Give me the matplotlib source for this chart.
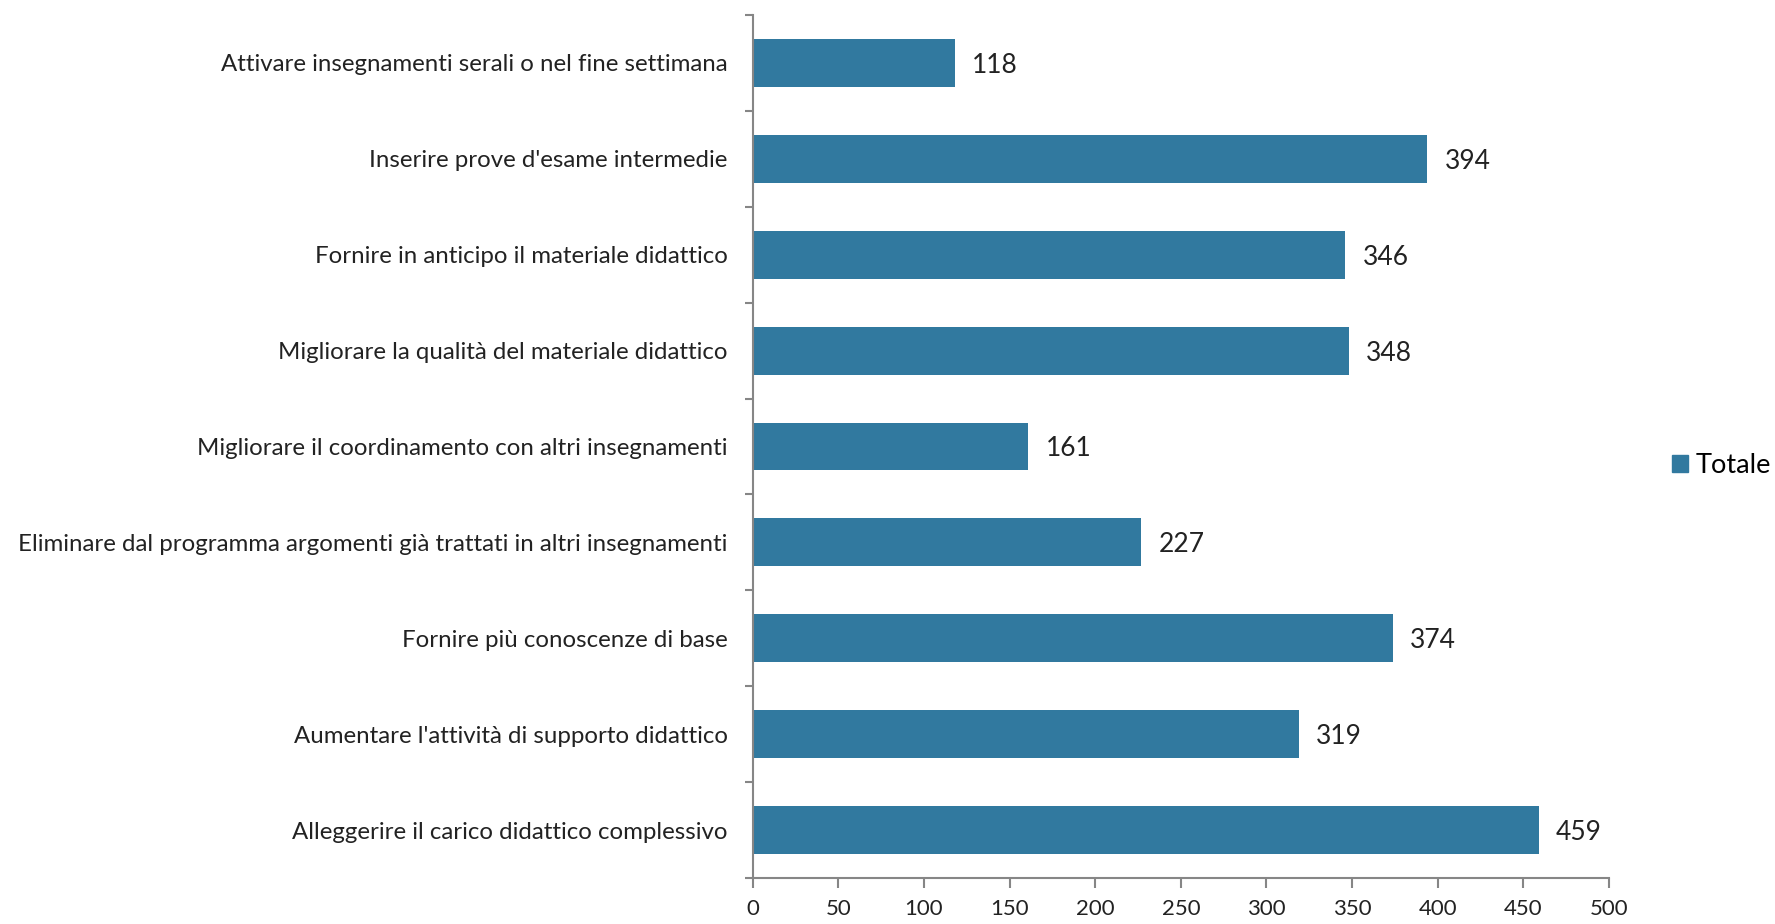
import matplotlib.pyplot as plt
import matplotlib.patches as mpatches

# categories listed bottom to top (barh order)
categories = [
    'Alleggerire il carico didattico complessivo',
    "Aumentare l'attività di supporto didattico",
    'Fornire più conoscenze di base',
    'Eliminare dal programma argomenti già trattati in altri insegnamenti',
    'Migliorare il coordinamento con altri insegnamenti',
    'Migliorare la qualità del materiale didattico',
    'Fornire in anticipo il materiale didattico',
    "Inserire prove d'esame intermedie",
    'Attivare insegnamenti serali o nel fine settimana',
]
totale = [459, 319, 374, 227, 161, 348, 346, 394, 118]
xticks = [0, 50, 100, 150, 200, 250, 300, 350, 400, 450, 500]

BAR_COLOR = '#31799F'
AXIS_COLOR = '#868686'

plt.rcParams['font.family'] = ['Lato', 'DejaVu Sans']

fig = plt.figure(figsize=(17.75, 9.24), dpi=100)
ax = fig.add_axes([0.424, 0.0498, 0.4825, 0.934])

pos = list(range(len(categories)))
ax.barh(pos, totale, height=0.5, color=BAR_COLOR)
for p, v in zip(pos, totale):
  ax.text(v + 10, p, str(v), va='center_baseline', ha='left', fontsize=19,
          color='#222222')

ax.set_xlim(0, 500)
ax.set_ylim(-0.5, len(categories) - 0.5)
ax.set_xticks(xticks)
ax.set_xticklabels([str(t) for t in xticks], fontsize=16, color='#222222')
ax.set_yticks(pos)
ax.set_yticklabels(categories, fontsize=17.3, color='#222222')
ax.tick_params(axis='y', length=0, pad=18)
ax.tick_params(axis='x', length=7, width=1.5, color=AXIS_COLOR, pad=8)
# y ticks at category boundaries
ax.set_yticks([p - 0.5 for p in range(len(categories) + 1)], minor=True)
ax.tick_params(axis='y', which='minor', length=6, width=1.5, color=AXIS_COLOR)

for s in ['top', 'right']:
  ax.spines[s].set_visible(False)
for s in ['left', 'bottom']:
  ax.spines[s].set_color(AXIS_COLOR)
  ax.spines[s].set_linewidth(1.5)

handle = mpatches.Patch(color=BAR_COLOR, label='Totale')
fig.legend(handles=[handle], loc='center left', bbox_to_anchor=(0.928, 0.496),
           frameon=False, fontsize=19.5, handlelength=0.6, handleheight=0.6,
           handletextpad=0.3)

plt.savefig('out.png', dpi=100)
plt.close()
